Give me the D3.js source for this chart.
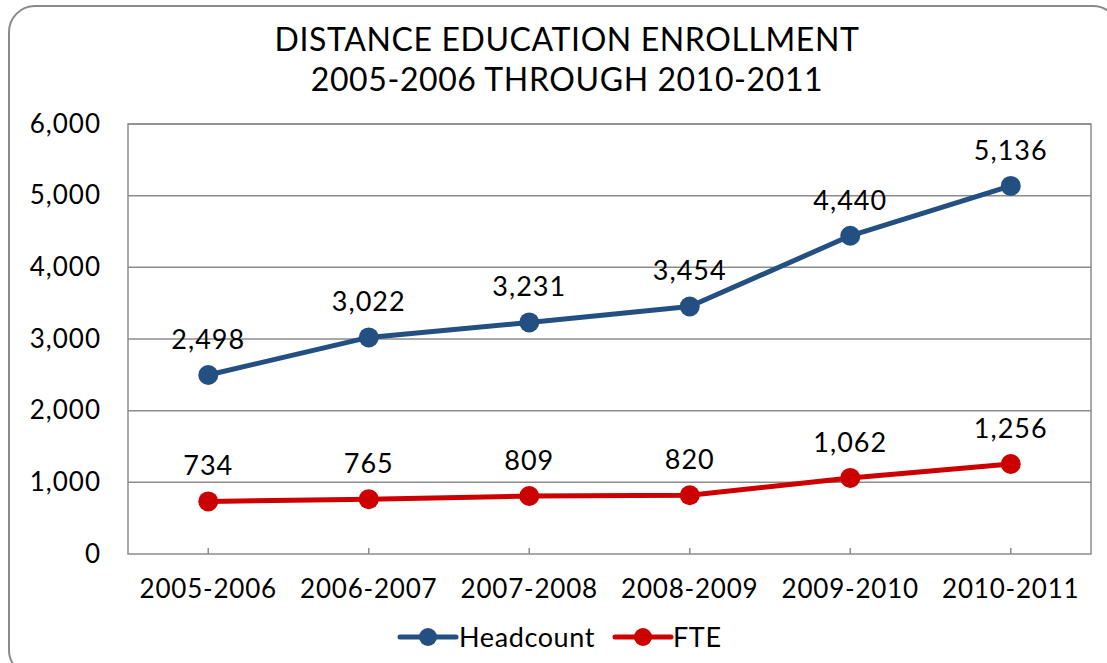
<!DOCTYPE html>
<html><head><meta charset="utf-8">
<script src="https://cdn.jsdelivr.net/npm/d3@7"></script>
<style>body{margin:0;background:#fff;} svg{display:block;font-family:Lato, "Noto Sans", sans-serif;}</style>
</head><body>
<svg id="c" width="1107" height="663"></svg>
<script>
const categories = ["2005-2006","2006-2007","2007-2008","2008-2009","2009-2010","2010-2011"];
const headcount = [2498, 3022, 3231, 3454, 4440, 5136];
const fte = [734, 765, 809, 820, 1062, 1256];
const yTicks = [0,1000,2000,3000,4000,5000,6000];
const seriesNames = ["Headcount","FTE"];
const seriesColors = ["#244F82","#CC0000"];
const titleLines = ["DISTANCE EDUCATION ENROLLMENT","2005-2006 THROUGH 2010-2011"];

const svg = d3.select("#c");
const fmt = d3.format(",");
const L=128, R=1091, T=124, B=554;
const FF = "Lato, 'Noto Sans', sans-serif";

// outer frame
svg.append("rect").attr("x",9).attr("y",6).attr("width",1110).attr("height",670)
  .attr("rx",26).attr("fill","#fff").attr("stroke","#8a8a8a").attr("stroke-width",2);

svg.append("text").attr("x",567).attr("y",51).attr("text-anchor","middle")
  .attr("font-size",32).attr("letter-spacing",0.6).attr("fill","#000").text(titleLines[0]);
svg.append("text").attr("x",567).attr("y",91).attr("text-anchor","middle")
  .attr("font-size",32).attr("letter-spacing",0.6).attr("fill","#000").text(titleLines[1]);

const x = d3.scaleBand().domain(categories).range([L,R]);
const y = d3.scaleLinear().domain([0,6000]).range([B,T]);

// gridlines
svg.append("g").selectAll("line").data(yTicks.filter(d=>d>0)).join("line")
  .attr("x1",L).attr("x2",R).attr("y1",d=>y(d)).attr("y2",d=>y(d))
  .attr("stroke","#8c8c8c").attr("stroke-width",1.5);
// plot border
svg.append("rect").attr("x",L).attr("y",T).attr("width",R-L).attr("height",B-T)
  .attr("fill","none").attr("stroke","#8c8c8c").attr("stroke-width",1.5);

// y axis labels
const yAxis = d3.axisLeft(y).tickValues(yTicks).tickFormat(fmt).tickSize(0).tickPadding(27);
const gy = svg.append("g").attr("transform",`translate(${L},0)`).call(yAxis);
gy.select(".domain").remove();
gy.selectAll("text").attr("font-size",26).attr("letter-spacing",1).attr("fill","#000").attr("font-family",FF);

// x axis
const xAxis = d3.axisBottom(x).tickSize(0).tickPadding(26);
const gx = svg.append("g").attr("transform",`translate(0,${B})`).call(xAxis);
gx.select(".domain").remove();
gx.selectAll("text").attr("font-size",26).attr("letter-spacing",0.8).attr("fill","#000").attr("font-family",FF);
svg.append("g").selectAll("line").data(categories).join("line")
  .attr("x1",d=>x(d)+x.bandwidth()/2).attr("x2",d=>x(d)+x.bandwidth()/2)
  .attr("y1",B).attr("y2",B-6).attr("stroke","#8c8c8c").attr("stroke-width",1.5);

const series = [headcount, fte];
const line = d3.line().x((d,i)=>x(categories[i])+x.bandwidth()/2).y(d=>y(d));
series.forEach((vals,si)=>{
  const g = svg.append("g");
  g.append("path").datum(vals).attr("d",line).attr("fill","none")
    .attr("stroke",seriesColors[si]).attr("stroke-width",5).attr("stroke-linejoin","round");
  g.selectAll("circle").data(vals).join("circle")
    .attr("cx",(d,i)=>x(categories[i])+x.bandwidth()/2).attr("cy",d=>y(d)).attr("r",10)
    .attr("fill",seriesColors[si]);
  g.selectAll("text").data(vals).join("text")
    .attr("x",(d,i)=>x(categories[i])+x.bandwidth()/2).attr("y",d=>y(d)-26)
    .attr("text-anchor","middle").attr("font-size",27).attr("letter-spacing",1).attr("fill","#000").text(d=>fmt(d));
});

// legend
const legendItems = [{x:400,tx:459},{x:615,tx:673}];
legendItems.forEach((it,i)=>{
  const g = svg.append("g");
  g.append("line").attr("x1",it.x).attr("x2",it.x+56).attr("y1",637).attr("y2",637)
    .attr("stroke",seriesColors[i]).attr("stroke-width",5).attr("stroke-linecap","round");
  g.append("circle").attr("cx",it.x+28).attr("cy",637).attr("r",9).attr("fill",seriesColors[i]);
  g.append("text").attr("x",it.tx).attr("y",647).attr("font-size",27).attr("letter-spacing",0.6).attr("fill","#000").text(seriesNames[i]);
});
</script>
</body></html>
